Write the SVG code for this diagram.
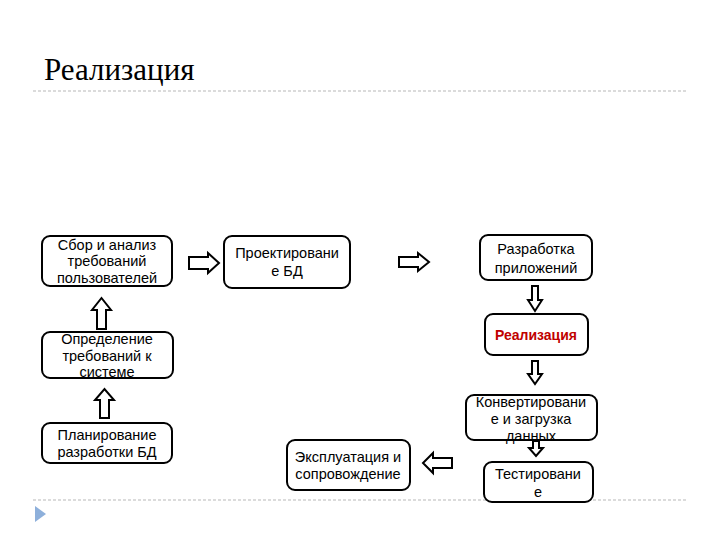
<svg xmlns="http://www.w3.org/2000/svg" width="720" height="540" viewBox="0 0 720 540">
<style>
.box{fill:#fff;stroke:#000;stroke-width:2}
.t{font-family:"Liberation Sans",Arial,sans-serif;font-size:14.5px;fill:#000;text-anchor:middle}
.red{font-weight:bold;fill:#c00000;font-size:14px}
.arr{fill:#fff;stroke:#000;stroke-width:2;stroke-linejoin:miter}
.dash{stroke:#b8b8b8;stroke-width:1.2;stroke-dasharray:3 2;fill:none}
.title{font-family:"Liberation Serif","DejaVu Serif","Times New Roman",serif;font-size:31px;fill:#000}
</style>
<rect width="720" height="540" fill="#fff"/>
<text class="title" x="44" y="80">Реализация</text>
<line class="dash" x1="33" y1="91" x2="688" y2="91"/>
<line class="dash" x1="33" y1="500" x2="688" y2="500"/>
<polygon points="35,506 46,514 35,522" fill="#8eb0db"/>
<g id="connectors">
<polygon class="arr" points="189,257 208,257 208,253 219,263 208,273 208,269 189,269"/>
<polygon class="arr" points="399,257 418,257 418,253 429,262 418,271 418,267 399,267"/>
<polygon class="arr" points="532,286 538,286 538,300 542,300 535,311 528,300 532,300"/>
<polygon class="arr" points="532,361 538,361 538,374 542,374 535,384 528,374 532,374"/>
<polygon class="arr" points="533,441 539,441 539,448 543,448 536,456 529,448 533,448"/>
<polygon class="arr" points="452,458 433,458 433,453 423,463 433,473 433,468 452,468"/>
<polygon class="arr" points="97,329 106,329 106,310 111,310 101.5,298 92,310 97,310"/>
<polygon class="arr" points="100,418 109,418 109,400 114,400 104.5,389 95,400 100,400"/>
</g>
<g id="n1"><rect class="box" x="42" y="236" width="130" height="50" rx="8"/>
<text class="t" x="107" y="250">Сбор и анализ</text><text class="t" x="107" y="266">требований</text><text class="t" x="107" y="283">пользователей</text></g>
<g id="n2"><rect class="box" x="224" y="236" width="126" height="52" rx="8"/>
<text class="t" x="287" y="258">Проектировани</text><text class="t" x="287" y="276">е БД</text></g>
<g id="n3"><rect class="box" x="480" y="235" width="112" height="45" rx="8"/>
<text class="t" x="536" y="254">Разработка</text><text class="t" x="536" y="273">приложений</text></g>
<g id="n4"><rect class="box" x="485" y="314" width="103" height="41" rx="8"/>
<text class="t red" x="536" y="340">Реализация</text></g>
<g id="n5"><rect class="box" x="466" y="395" width="131" height="45" rx="8"/>
<text class="t" x="531" y="407">Конвертировани</text><text class="t" x="531" y="424">е и загрузка</text><text class="t" x="531" y="441">данных</text></g>
<g id="n6"><rect class="box" x="484" y="462" width="109" height="40" rx="8"/>
<text class="t" x="538" y="479">Тестировани</text><text class="t" x="538" y="497">е</text></g>
<g id="n7"><rect class="box" x="287" y="440" width="123" height="50" rx="8"/>
<text class="t" x="348" y="462">Эксплуатация и</text><text class="t" x="348" y="479">сопровождение</text></g>
<g id="n8"><rect class="box" x="42" y="332" width="131" height="46" rx="8"/>
<text class="t" x="107" y="344">Определение</text><text class="t" x="107" y="361">требований к</text><text class="t" x="107" y="377">системе</text></g>
<g id="n9"><rect class="box" x="42" y="423" width="130" height="40" rx="8"/>
<text class="t" x="107" y="440">Планирование</text><text class="t" x="107" y="457">разработки БД</text></g>
</svg>
